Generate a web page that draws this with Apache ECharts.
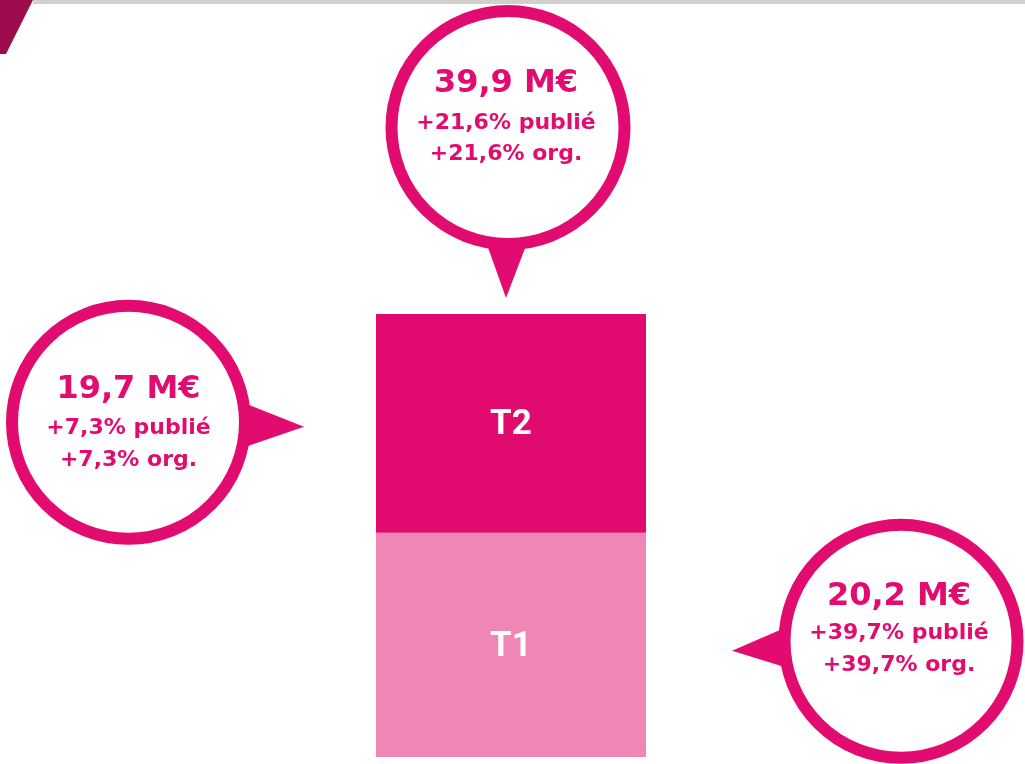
<!DOCTYPE html>
<html lang="fr">
<head>
<meta charset="utf-8">
<title>Chiffre d'affaires S1</title>
<script src="https://cdn.jsdelivr.net/npm/echarts@6/dist/echarts.min.js"></script>
<style>
  html, body { margin: 0; padding: 0; background: #fff; }
  #chart { width: 1025px; height: 764px; }
</style>
</head>
<body>
<div id="chart"></div>
<script>
// Chiffre d'affaires par trimestre (M€)
const quarters = ['T1', 'T2']
const revenue = [20.2, 19.7]
const publishedGrowth = [39.7, 7.3]
const organicGrowth = [39.7, 7.3]
const totalPublishedGrowth = 21.6
const totalOrganicGrowth = 21.6

const pink = '#e20b6f'
const barColors = ['#f086b5', '#e10a6e']
const bubbleFont = "'DejaVu Sans', sans-serif"

const fr = (v) => v.toFixed(1).replace('.', ',')
const total = revenue.reduce((a, b) => a + b, 0)

const chart = echarts.init(document.getElementById('chart'))

chart.setOption({
  animation: false,
  grid: { left: 0, top: 2, width: 1022, height: 755 },
  xAxis: { type: 'category', data: ['S1'], show: false },
  yAxis: { type: 'value', min: 0, max: 68, show: false },
  series: quarters.map((q, i) => ({
    type: 'bar',
    name: q,
    stack: 'ca',
    barWidth: 270,
    data: [revenue[i]],
    itemStyle: { color: barColors[i] },
    label: {
      show: true,
      position: 'inside',
      formatter: q,
      color: '#fff',
      fontFamily: "'Liberation Sans Narrow', Roboto, sans-serif",
      fontWeight: 'bold',
      fontSize: 35,
      offset: [0, 2]
    }
  }))
})

// bulle : pointe, cercle, trois lignes de texte
function bubble(apex, center, lines, textDx, textDy) {
  const dx = center[0] - apex[0]
  const dy = center[1] - apex[1]
  const len = Math.hypot(dx, dy)
  const ux = dx / len
  const uy = dy / len
  const bx = apex[0] + ux * 65
  const by = apex[1] + uy * 65
  const hw = 24
  const items = [
    {
      type: 'polygon',
      shape: { points: [apex, [bx - uy * hw, by + ux * hw], [bx + uy * hw, by - ux * hw]] },
      style: { fill: pink }
    },
    {
      type: 'circle',
      shape: { cx: center[0], cy: center[1], r: 116.5 },
      style: { fill: '#fff', stroke: pink, lineWidth: 12 }
    }
  ]
  lines.forEach((t, k) => {
    items.push({
      type: 'text',
      x: center[0] + textDx,
      y: center[1] + textDy[k],
      style: {
        text: t,
        fill: pink,
        fontFamily: bubbleFont,
        fontWeight: 'bold',
        fontSize: k === 0 ? 32 : 22,
        align: 'center',
        verticalAlign: 'middle'
      }
    })
  })
  return items
}

function bubbleLines(value, pub, org) {
  return [fr(value) + ' M€', '+' + fr(pub) + '% publié', '+' + fr(org) + '% org.']
}

function drawBubbles() {
  const halfBar = 135
  const top = chart.convertToPixel({ xAxisIndex: 0, yAxisIndex: 0 }, [0, total])
  const midT2 = chart.convertToPixel({ xAxisIndex: 0, yAxisIndex: 0 }, [0, revenue[0] + revenue[1] / 2])
  const midT1 = chart.convertToPixel({ xAxisIndex: 0, yAxisIndex: 0 }, [0, revenue[0] / 2])

  const leftX = midT2[0] - halfBar
  const rightX = midT1[0] + halfBar

  const elements = [
    { type: 'rect', shape: { x: 33, y: 0, width: 1025, height: 4 }, style: { fill: '#d1d0cd' } },
    { type: 'polygon', shape: { points: [[0, 0], [33, 0], [6, 54], [0, 54]] }, style: { fill: '#9c0c4c' } },
    ...bubble(
      [top[0] - 5, top[1] - 16],
      [top[0] - 3, top[1] - 186.5],
      bubbleLines(total, totalPublishedGrowth, totalOrganicGrowth),
      -2, [-44, -4, 27]
    ),
    ...bubble(
      [leftX - 72, midT2[1] + 3.5],
      [leftX - 247.5, midT2[1] - 1],
      bubbleLines(revenue[1], publishedGrowth[1], organicGrowth[1]),
      0, [-32.5, 5.5, 37.5]
    ),
    ...bubble(
      [rightX + 86, midT1[1] + 6],
      [rightX + 255, midT1[1] - 3.5],
      bubbleLines(revenue[0], publishedGrowth[0], organicGrowth[0]),
      -2, [-44.5, -8, 23.5]
    )
  ]
  chart.setOption({ graphic: elements })
}

drawBubbles()
</script>
</body>
</html>
